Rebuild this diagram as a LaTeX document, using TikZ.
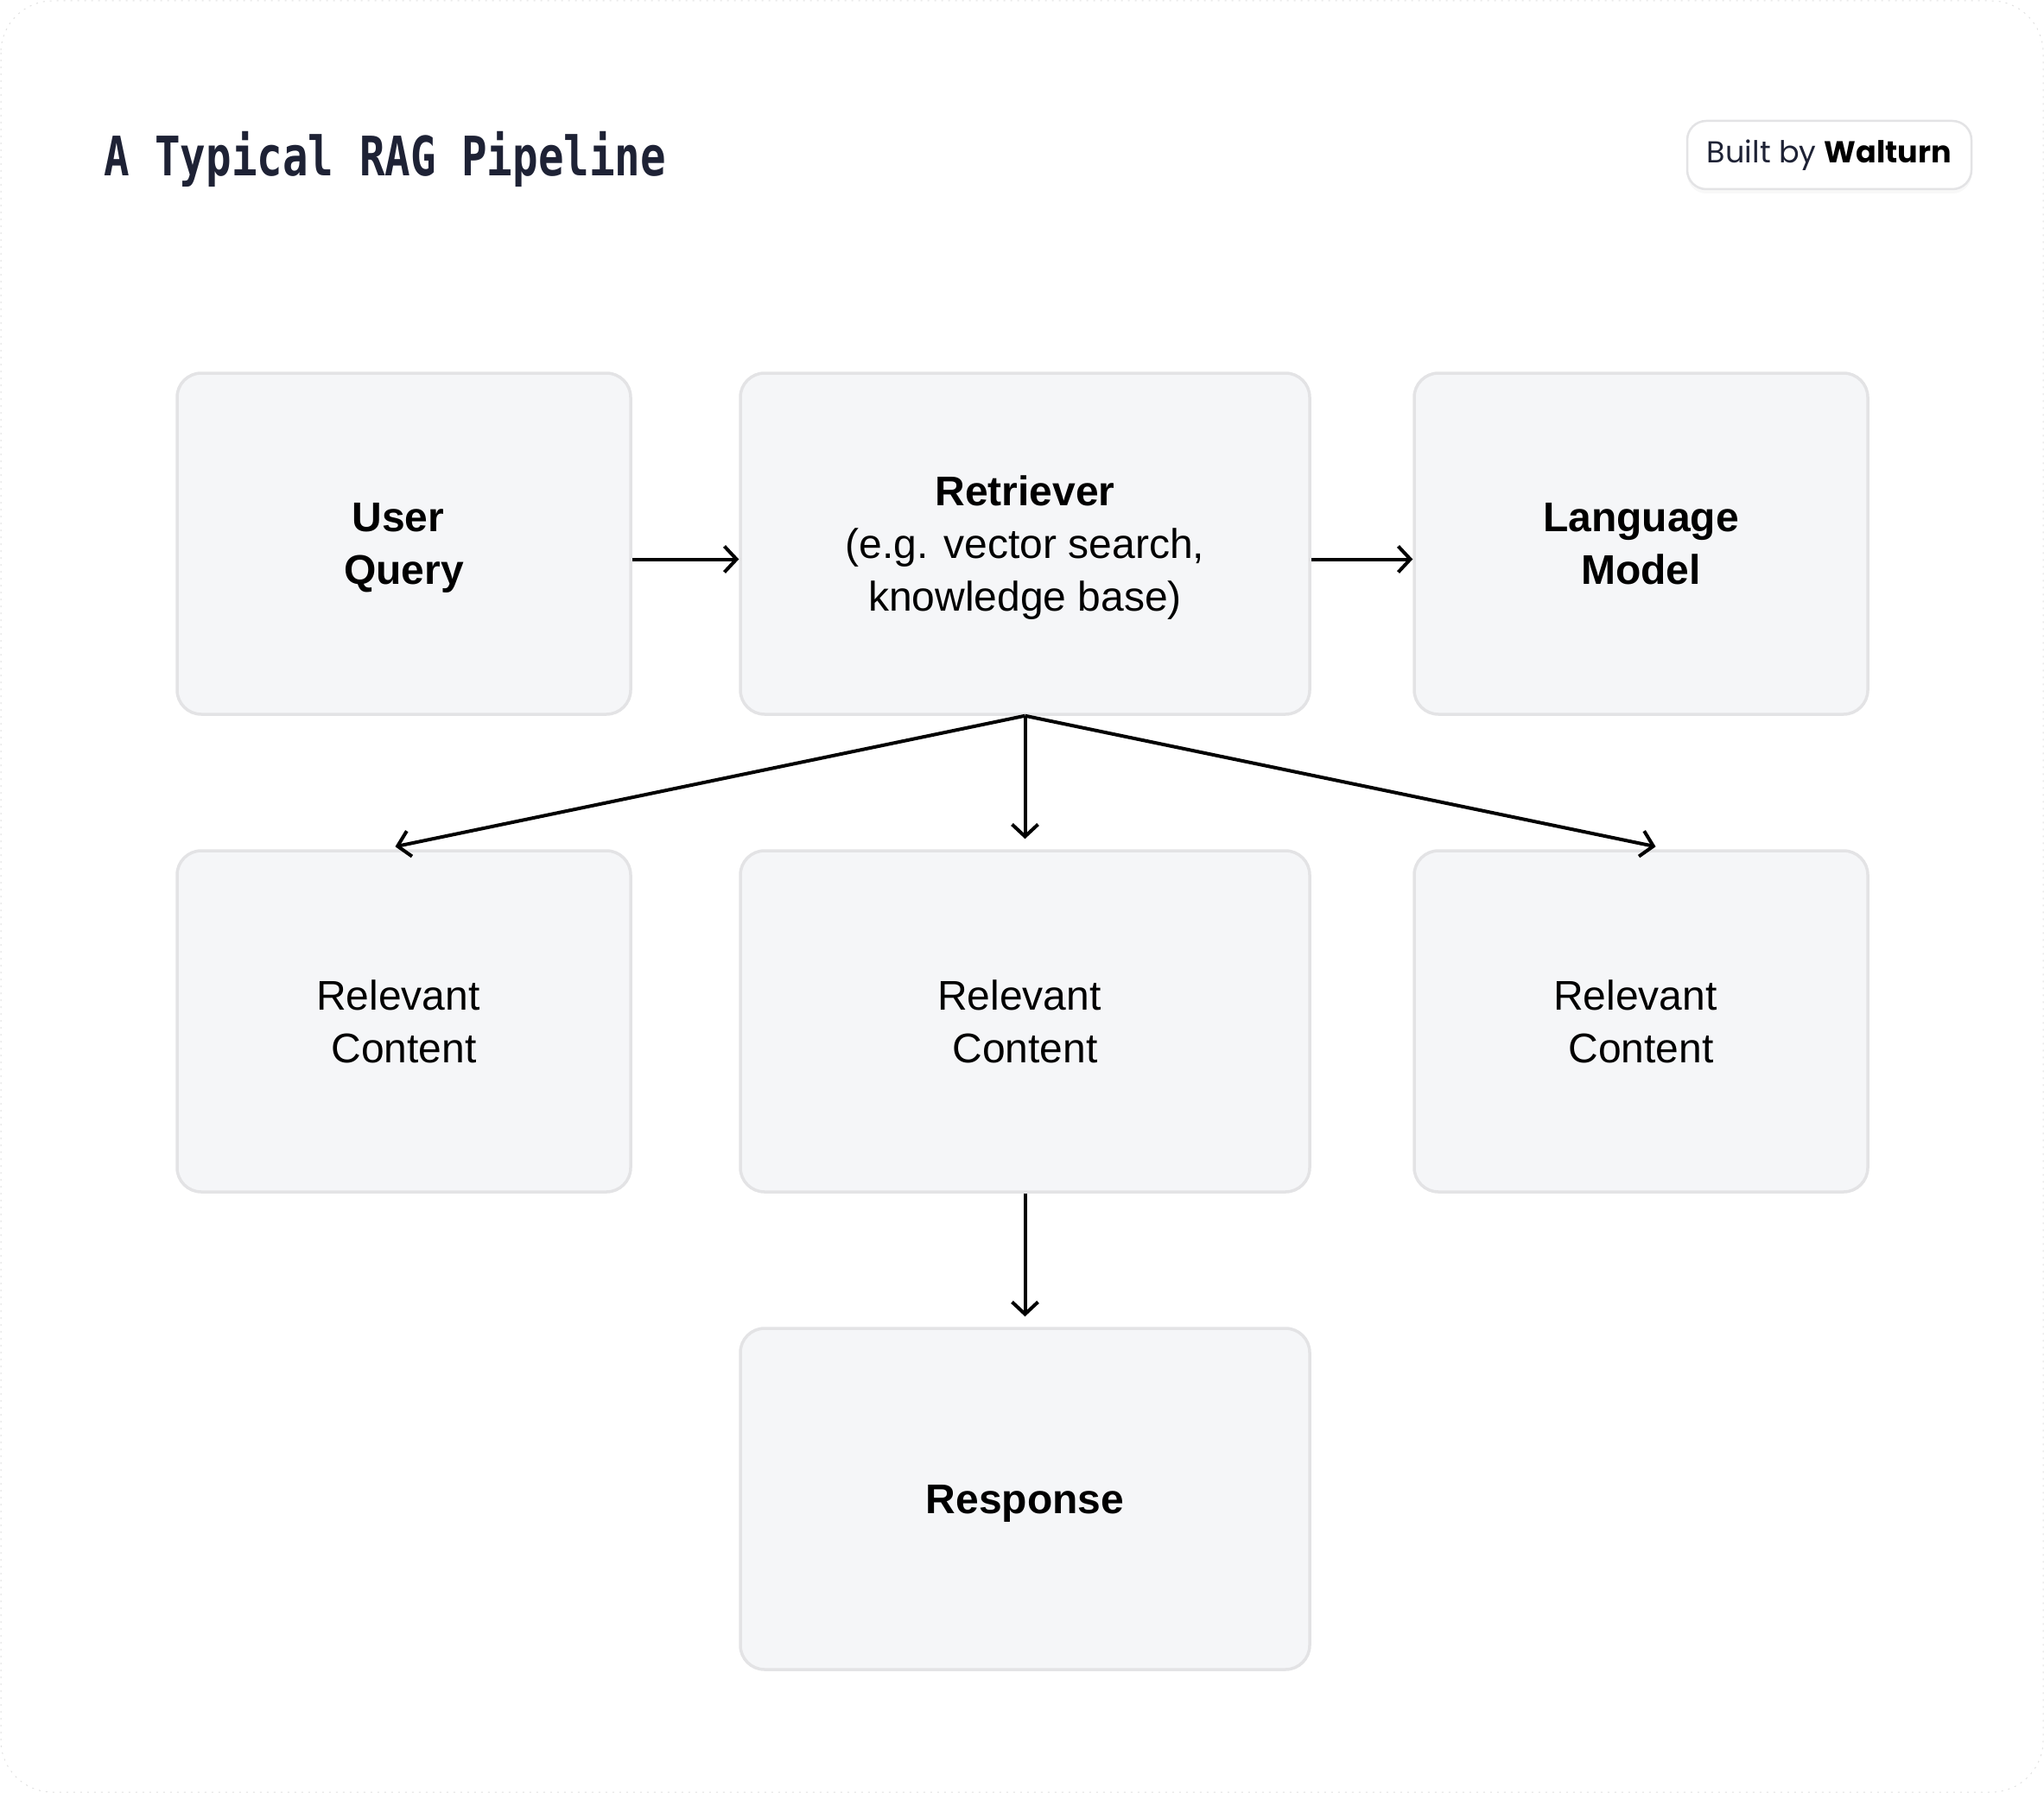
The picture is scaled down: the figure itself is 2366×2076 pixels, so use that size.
\documentclass[tikz,border=0pt]{standalone}
\usepackage{fontspec}
\setmainfont{Liberation Sans}
\newfontfamily\titlefont[FakeStretch=0.78]{DejaVu Sans Mono}
\newfontfamily\badgefont{Poppins}
\usepackage{xcolor}
\usetikzlibrary{arrows.meta,positioning,shadows}
\definecolor{boxfill}{HTML}{F5F6F8}
\definecolor{boxline}{HTML}{E3E3E5}
\definecolor{navy}{HTML}{1E2235}

\begin{document}
\begin{tikzpicture}[
    x=1pt, y=-1pt,
    node distance=154.5pt and 120pt,
    box/.style={rectangle, draw=boxline, fill=boxfill, line width=3.5pt, rounded corners=28pt,
        minimum width=525pt, minimum height=395pt, align=center, text depth=0pt,
        font=\fontsize{48}{61}\selectfont},
    widebox/.style={box, minimum width=659pt},
    badge/.style={rectangle, draw=boxline, fill=white, line width=2.5pt, rounded corners=22pt,
        minimum width=329pt, minimum height=79pt, text=navy,
        drop shadow={opacity=0.06, shadow xshift=0pt, shadow yshift=-5pt}},
    arrow/.style={-{Straight Barb[length=14pt,width=30pt]}, line width=4pt, line join=round}
]
\useasboundingbox (0,0) rectangle (2366,2076);
\draw[black!12, line width=1pt, dash pattern=on 2pt off 6pt, rounded corners=60pt] (1,1) rectangle (2365,2075);

\node[anchor=base west, inner sep=0pt, text=navy, font=\titlefont\bfseries\fontsize{63}{63}\selectfont] (title) at (120,204) {A Typical RAG Pipeline};
\node[badge, font=\badgefont\fontsize{35}{35}\selectfont] (badge) at (2117.5,179.5) {Built by \textcolor{black}{\textbf{Walturn}}};

\node[box] (query) at (467.5,629.5) {\textbf{User}\hspace*{.28em}\\\textbf{Query}};
\node[widebox, right=123.5pt of query] (retriever) {\textbf{Retriever}\\(e.g. vector search,\\knowledge base)};
\node[box, right=117.5pt of retriever] (model) {\textbf{Language}\\\textbf{Model}};
\node[box, below=of query] (content1) {Relevant\hspace*{.28em}\\Content};
\node[widebox, below=of retriever] (content2) {Relevant\hspace*{.28em}\\Content};
\node[box, below=of model] (content3) {Relevant\hspace*{.28em}\\Content};
\node[widebox, below=of content2] (response) {\textbf{Response}};

\draw[arrow] ([yshift=-18pt]query.east) -- ([yshift=-18pt]retriever.west);
\draw[arrow] ([yshift=-18pt]retriever.east) -- ([yshift=-18pt]model.west);
\draw[arrow] (retriever.south) -- ([xshift=-10pt,yshift=3pt]content1.north);
\draw[arrow] (retriever.south) -- ([yshift=12pt]content2.north);
\draw[arrow] (retriever.south) -- ([xshift=17pt,yshift=3pt]content3.north);
\draw[arrow] (content2.south) -- ([yshift=12pt]response.north);
\end{tikzpicture}
\end{document}
